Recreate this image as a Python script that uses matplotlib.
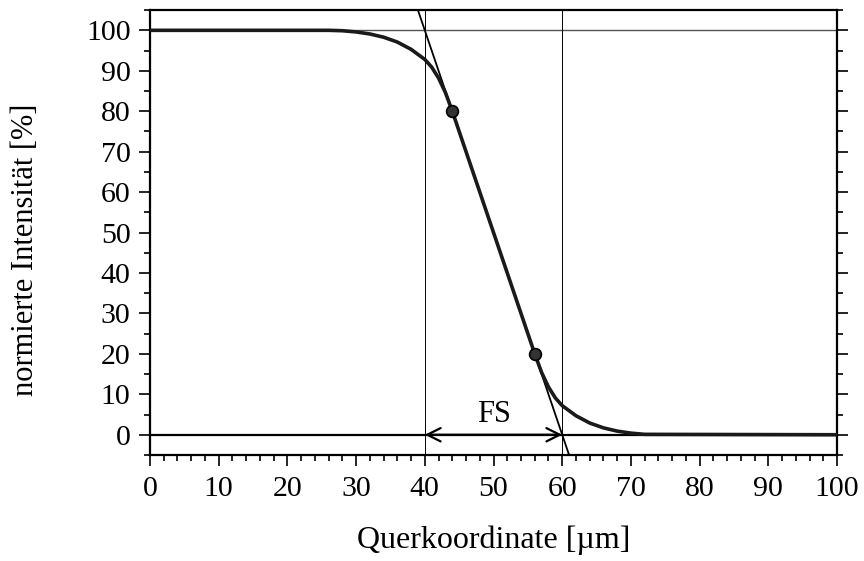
import matplotlib
matplotlib.use("Agg")
import matplotlib.pyplot as plt
from matplotlib.ticker import MultipleLocator

plt.rcParams['font.family'] = ['Liberation Serif', 'DejaVu Serif']

# Intensity profile across the edge
x_profile = [0, 26, 28, 30, 32, 34, 36, 38, 40, 41, 42, 43, 44,
             56, 57, 58, 59, 60, 62, 64, 66, 68, 70, 72, 100]
y_profile = [100, 100, 99.9, 99.6, 99.1, 98.3, 97.1, 95.3, 92.8, 90.9, 88.2, 84.6, 80,
             20, 15.4, 11.8, 9.1, 7.2, 4.7, 2.9, 1.7, 0.9, 0.4, 0.1, 0]

# 80 % and 20 % points that define the edge slope
x_marks = [44, 56]
y_marks = [80, 20]

# Reference levels and the resulting edge width FS
levels = [0, 100]
fs_bounds = [40, 60]
fs_label = "FS"

xlabel = "Querkoordinate [µm]"
ylabel = "normierte Intensität [%]"

fig = plt.figure(figsize=(8.64, 5.61), dpi=100)
ax = fig.add_axes([0.1736, 0.189, 0.7952, 0.793])

ax.set_xlim(0, 100)
ax.set_ylim(-5, 105)

# reference lines
ax.axhline(levels[1], color='#555555', lw=1.0, zorder=1)
ax.axhline(levels[0], color='black', lw=1.6, zorder=1)
for xb in fs_bounds:
    ax.axvline(xb, color='black', lw=0.7, zorder=1)

# tangent through the 80/20 points, extended over the full height
slope = (y_marks[1] - y_marks[0]) / (x_marks[1] - x_marks[0])
y_lo, y_hi = ax.get_ylim()
tx = [x_marks[0] + (y_hi - y_marks[0]) / slope, x_marks[0] + (y_lo - y_marks[0]) / slope]
ax.plot(tx, [y_hi, y_lo], color='black', lw=1.3, zorder=2)

# measured profile
ax.plot(x_profile, y_profile, color='#1a1a1a', lw=2.6, solid_capstyle='round',
        solid_joinstyle='round', zorder=3)
ax.plot(x_marks, y_marks, 'o', color='#333333', ms=8.5, mec='black', mew=1.2, zorder=4)

# edge width arrow
ax.annotate('', xy=(fs_bounds[0], levels[0]), xytext=(fs_bounds[1], levels[0]),
            arrowprops=dict(arrowstyle='<->', color='black', lw=1.6,
                            mutation_scale=24, shrinkA=0, shrinkB=0), zorder=5)
ax.text(sum(fs_bounds) / 2, 4.9, fs_label, ha='center', va='center', fontsize=22)

# axes styling
ax.xaxis.set_major_locator(MultipleLocator(10))
ax.xaxis.set_minor_locator(MultipleLocator(2))
ax.yaxis.set_major_locator(MultipleLocator(10))
ax.yaxis.set_minor_locator(MultipleLocator(5))
ax.set_yticks(range(0, 101, 10))
ax.tick_params(which='both', direction='out', width=1.2, labelsize=21.5,
               right=True, top=False, colors='black')
ax.tick_params(axis='x', which='major', length=8, pad=7)
ax.tick_params(axis='y', which='major', length=8, pad=6)
ax.tick_params(which='minor', length=4.5)
for sp in ax.spines.values():
    sp.set_linewidth(1.6)

ax.set_xlabel(xlabel, fontsize=23, va='center', ha='center')
ax.set_ylabel(ylabel, fontsize=22, va='center', ha='center')
ax.xaxis.set_label_coords(0.5, -0.191)
ax.yaxis.set_label_coords(-0.1805, 0.461)

fig.savefig("out.png", dpi=100)
